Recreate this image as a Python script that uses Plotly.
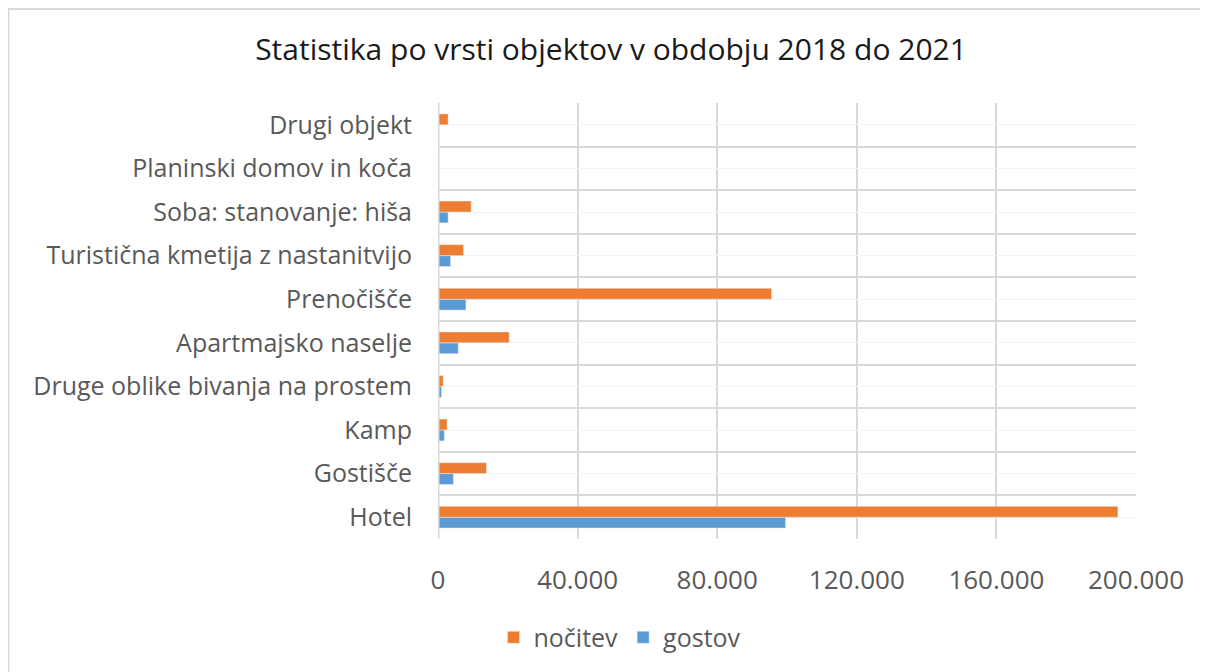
import plotly.graph_objects as go

categories = ["Hotel", "Gostišče", "Kamp", "Druge oblike bivanja na prostem",
              "Apartmajsko naselje", "Prenočišče", "Turistična kmetija z nastanitvijo",
              "Soba: stanovanje: hiša", "Planinski domov in koča", "Drugi objekt"]
nocitev = [194800, 13900, 2600, 1500, 20400, 95600, 7300, 9500, 0, 2900]
gostov = [99600, 4400, 1800, 1000, 5800, 8000, 3600, 2900, 0, 0]
x_ticks = [0, 40000, 80000, 120000, 160000, 200000]
x_ticktext = ["0", "40.000", "80.000", "120.000", "160.000", "200.000"]

ypos = list(range(len(categories)))

fig = go.Figure()
fig.add_trace(go.Bar(y=ypos, x=gostov, orientation="h", name="gostov",
                     marker=dict(color="#5B9BD5"), legendrank=2))
fig.add_trace(go.Bar(y=ypos, x=nocitev, orientation="h", name="nočitev",
                     marker=dict(color="#ED7D31"), legendrank=1))

W, H = 1200, 664
L, T = 430, 95
pw, ph = 698, 438
R, B = W - L - pw, H - T - ph

def px(xf):
    return (xf - L) / pw

def py(yf):
    return (T + ph - yf) / ph

fig.update_layout(
    width=W, height=H,
    margin=dict(l=L, r=R, t=T, b=B),
    barmode="group", bargap=0.5, bargroupgap=0,
    plot_bgcolor="white", paper_bgcolor="white",
    font=dict(family="Open Sans", color="#595959", size=25),
    title=dict(text="Statistika po vrsti objektov v obdobju 2018 do 2021",
               x=603 / W, xanchor="center", xref="container",
               y=1 - 41 / H, yanchor="middle", yref="container",
               font=dict(size=30, color="#1a1a1a", family="Open Sans")),
    legend=dict(orientation="h", x=px(612), xanchor="center",
                y=py(632), yanchor="middle",
                font=dict(size=25, color="#595959"), traceorder="normal"),
    xaxis=dict(range=[0, 200000], tickvals=x_ticks, ticktext=x_ticktext,
               showgrid=True, gridcolor="#d9d9d9", gridwidth=2,
               zeroline=False, showline=False, ticks="", ticklabelstandoff=23,
               tickfont=dict(size=26, color="#595959"), fixedrange=True),
    yaxis=dict(range=[-0.5, len(categories) - 0.5], tickvals=ypos, ticktext=categories,
               showgrid=True, gridcolor="#f2f2f2", gridwidth=1,
               zeroline=False, showline=False, ticks="", ticklabelstandoff=25,
               tickfont=dict(size=25, color="#595959"),
               minor=dict(tickvals=[i - 0.5 for i in range(len(categories) + 1)],
                          showgrid=True, gridcolor="#d9d9d9", gridwidth=2, ticks=""),
               fixedrange=True),
)

# y axis line at x=0
fig.add_shape(type="line", xref="x", yref="paper", x0=0, x1=0, y0=0, y1=1,
              line=dict(color="#d9d9d9", width=3), layer="above")
# outer chart border (top and left visible)
fig.add_shape(type="rect", xref="paper", yref="paper",
              x0=px(0), x1=px(W + 10), y0=py(H + 10), y1=py(0),
              line=dict(color="#d9d9d9", width=3), layer="below")

fig.write_html("out.html")
